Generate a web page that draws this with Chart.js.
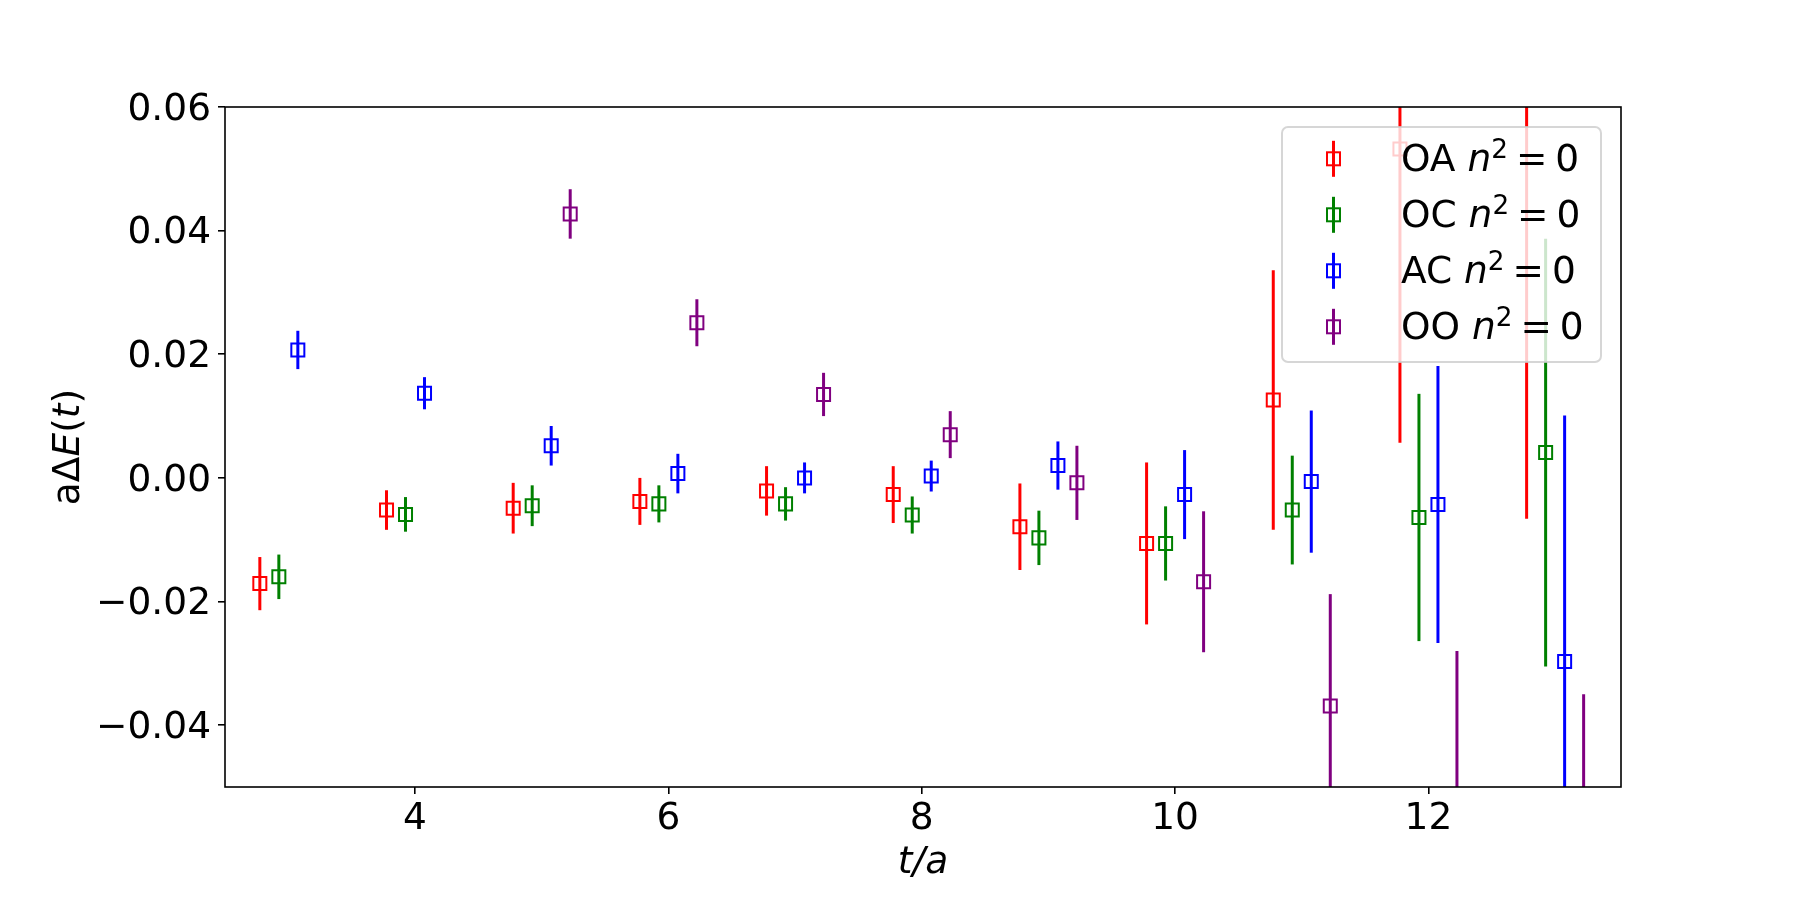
<!DOCTYPE html>
<html>
<head>
<meta charset="utf-8">
<script src="https://cdn.jsdelivr.net/npm/chart.js@4.4.0/dist/chart.umd.min.js"></script>
<style>
  html, body { margin: 0; padding: 0; background: #fff; }
  #wrap { width: 1800px; height: 900px; }
</style>
</head>
<body>
<div id="wrap"><canvas id="chart" width="1800" height="900"></canvas></div>
<script>
const times = [3, 4, 5, 6, 7, 8, 9, 10, 11, 12, 13];
const xTicks = [4, 6, 8, 10, 12];
const yTicks = [-0.04, -0.02, 0, 0.02, 0.04, 0.06];

const seriesNames = ['OA', 'OC', 'AC', 'OO'];
const seriesColors = ['#ff0000', '#008000', '#0000ff', '#800080'];
const xShift = [-0.225, -0.075, 0.075, 0.225];

const oaVals = [-0.0171, -0.0052, -0.0049, -0.0038, -0.0021, -0.0027, -0.0079, -0.0106, 0.0126, 0.0532, 0.0650];
const oaErrs = [0.0043, 0.0032, 0.0041, 0.0038, 0.0040, 0.0046, 0.0070, 0.0131, 0.0210, 0.0475, 0.0716];

const ocVals = [-0.0160, -0.0059, -0.0045, -0.0042, -0.0042, -0.0060, -0.0097, -0.0106, -0.0052, -0.0064, 0.0041];
const ocErrs = [0.0036, 0.0028, 0.0033, 0.0030, 0.0027, 0.0030, 0.0044, 0.0060, 0.0088, 0.0200, 0.0346];

const acVals = [0.0207, 0.0137, 0.0052, 0.0007, 0.0000, 0.0003, 0.0020, -0.0027, -0.0006, -0.0043, -0.0297];
const acErrs = [0.0031, 0.0026, 0.0032, 0.0032, 0.0025, 0.0025, 0.0039, 0.0072, 0.0115, 0.0224, 0.0398];

const ooVals = [null, null, 0.0427, 0.0251, 0.0135, 0.0070, -0.0008, -0.0168, -0.0369, -0.0600, -0.0700];
const ooErrs = [null, null, 0.0040, 0.0038, 0.0035, 0.0038, 0.0060, 0.0114, 0.0181, 0.0320, 0.0350];

const allVals = [oaVals, ocVals, acVals, ooVals];
const allErrs = [oaErrs, ocErrs, acErrs, ooErrs];

const FONT = '"DejaVu Sans", sans-serif';
const FS = 37.5;

// draws a row of text pieces (upright / italic / superscript)
function drawRich(ctx, parts, x, y, align) {
    const fontFor = p => `${p.it ? 'italic ' : ''}${FS * (p.s || 1)}px ${FONT}`;
    let total = 0;
    parts.forEach(p => {
        ctx.font = fontFor(p);
        p.w = ctx.measureText(p.t).width + (p.pl || 0) + (p.pr || 0);
        total += p.w;
    });
    let cx = align === 'center' ? x - total / 2 : x;
    ctx.textAlign = 'left';
    ctx.textBaseline = 'alphabetic';
    parts.forEach(p => {
        ctx.font = fontFor(p);
        ctx.fillText(p.t, cx + (p.pl || 0), y + (p.dy || 0));
        cx += p.w;
    });
}

const errorBars = {
    id: 'errorBars',
    beforeDatasetDraw(chart, args) {
        const ds = chart.data.datasets[args.index];
        const { ctx, chartArea: a, scales: { x, y } } = chart;
        ctx.save();
        ctx.beginPath();
        ctx.rect(a.left, a.top, a.right - a.left, a.bottom - a.top);
        ctx.clip();
        ctx.strokeStyle = ds.borderColor;
        ctx.lineWidth = 3;
        ds.data.forEach(p => {
            const px = x.getPixelForValue(p.x);
            ctx.beginPath();
            ctx.moveTo(px, y.getPixelForValue(p.y - p.err));
            ctx.lineTo(px, y.getPixelForValue(p.y + p.err));
            ctx.stroke();
        });
        ctx.restore();
    }
};

const frameAndLegend = {
    id: 'frameAndLegend',
    afterDraw(chart) {
        const { ctx, chartArea: a } = chart;
        ctx.save();
        // frame
        ctx.strokeStyle = '#000';
        ctx.lineWidth = 1.6;
        ctx.strokeRect(a.left, a.top, a.right - a.left, a.bottom - a.top);

        // axis titles
        ctx.fillStyle = '#000';
        drawRich(ctx, [{ t: 't', it: true }, { t: '/', it: true }, { t: 'a', it: true }],
            (a.left + a.right) / 2, 873, 'center');
        ctx.save();
        ctx.translate(79, (a.top + a.bottom) / 2);
        ctx.rotate(-Math.PI / 2);
        drawRich(ctx, [{ t: 'a' }, { t: 'Δ' }, { t: 'E', it: true }, { t: '(' }, { t: 't', it: true }, { t: ')' }], 0, 0, 'center');
        ctx.restore();

        // legend
        const w = 319, h = 235;
        const bx = a.right - 20 - w, by = a.top + 20, r = 6;
        ctx.beginPath();
        ctx.moveTo(bx + r, by);
        ctx.arcTo(bx + w, by, bx + w, by + h, r);
        ctx.arcTo(bx + w, by + h, bx, by + h, r);
        ctx.arcTo(bx, by + h, bx, by, r);
        ctx.arcTo(bx, by, bx + w, by, r);
        ctx.closePath();
        ctx.fillStyle = 'rgba(255,255,255,0.8)';
        ctx.fill();
        ctx.strokeStyle = 'rgba(204,204,204,0.8)';
        ctx.lineWidth = 2;
        ctx.stroke();

        seriesNames.forEach((name, i) => {
            const base = by + 43.5 + i * 56;
            const mx = bx + 51.5, my = base - 11.7;
            ctx.strokeStyle = seriesColors[i];
            ctx.lineWidth = 3;
            ctx.beginPath();
            ctx.moveTo(mx, my - 18);
            ctx.lineTo(mx, my + 18);
            ctx.stroke();
            ctx.lineWidth = 2;
            ctx.strokeRect(mx - 6.5, my - 6.5, 13, 13);
            ctx.fillStyle = '#000';
            drawRich(ctx, [
                { t: name + ' ' },
                { t: 'n', it: true },
                { t: '2', s: 0.7, dy: -13 },
                { t: '=', pl: 8, pr: 8 },
                { t: '0' }
            ], bx + 119, base, 'left');
        });
        ctx.restore();
    }
};

const datasets = seriesNames.map((name, i) => ({
    label: name + ' n² = 0',
    data: times.map((t, k) => ({ x: t + xShift[i], y: allVals[i][k], err: allErrs[i][k] }))
        .filter(p => p.y !== null),
    borderColor: seriesColors[i],
    backgroundColor: 'rgba(0,0,0,0)',
    pointStyle: 'rect',
    pointRadius: 9.2,
    pointBorderWidth: 2,
    showLine: false,
    order: seriesNames.length - 1 - i
}));

new Chart(document.getElementById('chart'), {
    type: 'scatter',
    data: { datasets },
    plugins: [errorBars, frameAndLegend],
    options: {
        responsive: false,
        devicePixelRatio: 1,
        animation: false,
        layout: { padding: { top: 107, right: 179, left: 0, bottom: 0 } },
        plugins: { legend: { display: false }, tooltip: { enabled: false } },
        scales: {
            x: {
                type: 'linear',
                min: 2.5,
                max: 13.52,
                afterBuildTicks: s => { s.ticks = xTicks.map(v => ({ value: v })); },
                afterFit: s => { s.height = 113; },
                border: { display: false },
                grid: { drawOnChartArea: false, drawTicks: true, tickLength: 7, tickColor: '#000', lineWidth: 1.6 },
                ticks: { color: '#000', padding: 3, maxRotation: 0, font: { family: FONT, size: FS }, callback: v => String(v) }
            },
            y: {
                type: 'linear',
                min: -0.05,
                max: 0.06,
                afterBuildTicks: s => { s.ticks = yTicks.map(v => ({ value: v })); },
                afterFit: s => { s.width = 225; },
                border: { display: false },
                grid: { drawOnChartArea: false, drawTicks: true, tickLength: 7, tickColor: '#000', lineWidth: 1.6 },
                ticks: {
                    color: '#000', padding: 7, labelOffset: 3,
                    font: { family: FONT, size: FS },
                    callback: v => (v < 0 ? '\u2212' : '') + Math.abs(v).toFixed(2)
                }
            }
        }
    }
});
</script>
</body>
</html>
